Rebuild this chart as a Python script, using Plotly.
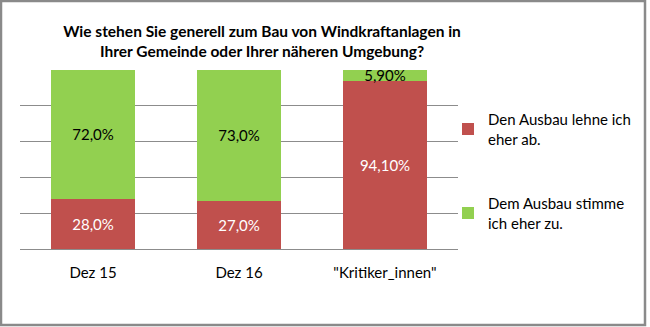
import plotly.graph_objects as go

# Survey data: attitude towards wind turbines nearby
categories = ["Dez 15", "Dez 16", "\"Kritiker_innen\""]
series_names = ["Den Ausbau lehne ich<br>eher ab.", "Dem Ausbau stimme<br>ich eher zu."]
reject_values = [28.0, 27.0, 94.1]
approve_values = [72.0, 73.0, 5.9]
label_decimals = [1, 1, 2]

RED = "#C0504D"
GREEN = "#92D050"
FONT = "Lato"


def pct_labels(values):
    return [f"{v:.{d}f}".replace(".", ",") + "%" for v, d in zip(values, label_decimals)]


fig = go.Figure()
fig.add_trace(go.Bar(
    x=categories, y=reject_values, name=series_names[0],
    marker=dict(color=RED, line=dict(width=0)),
    text=pct_labels(reject_values), textposition="inside",
    insidetextanchor="middle", textangle=0,
    textfont=dict(color="white", size=15, family=FONT),
    legendgroup="a",
))
fig.add_trace(go.Bar(
    x=categories, y=approve_values, name=series_names[1],
    marker=dict(color=GREEN, line=dict(width=0)),
    text=pct_labels(approve_values), textposition="inside",
    insidetextanchor="middle", textangle=0,
    textfont=dict(color="black", size=15, family=FONT),
    legendgroup="b",
))

# Outer frame of the chart
W, H = 650, 327
ml, mr, mt, mb = 20, 192, 70, 78
pw, ph = W - ml - mr, H - mt - mb
fx = lambda px: (px - ml) / pw
fy = lambda py: (H - mb - py) / ph

fig.update_layout(
    width=W, height=H,
    margin=dict(l=ml, r=mr, t=mt, b=mb),
    paper_bgcolor="white", plot_bgcolor="white",
    barmode="stack", bargap=0.43,
    font=dict(family=FONT, size=15, color="black"),
    title=dict(
        text="<b>Wie stehen Sie generell zum Bau von Windkraftanlagen in<br>Ihrer Gemeinde oder Ihrer näheren Umgebung?</b>",
        x=262 / W, xanchor="center", y=1 - 37 / H, yanchor="middle",
        font=dict(family=FONT, size=15.5, color="black"),
    ),
    uniformtext=dict(minsize=15, mode="show"),
    showlegend=True,
    legend=dict(
        x=fx(448), xanchor="left", y=fy(103), yanchor="top",
        traceorder="grouped", tracegroupgap=42,
        font=dict(family=FONT, size=15, color="black"),
        bgcolor="rgba(0,0,0,0)",
    ),
    xaxis=dict(
        showgrid=False, showline=True, linecolor="#8C8C8C", linewidth=1,
        ticks="", tickfont=dict(family=FONT, size=15, color="black"),
        ticklabelstandoff=10,
    ),
    yaxis=dict(
        range=[0, 100], dtick=20, showgrid=True, gridcolor="#8C8C8C", gridwidth=1,
        showticklabels=False, zeroline=False, ticks="",
    ),
    shapes=[dict(
        type="rect", xref="paper", yref="paper",
        x0=fx(1), x1=fx(645), y0=fy(1), y1=fy(325),
        line=dict(color="#8A8A8A", width=2.5), fillcolor="rgba(0,0,0,0)",
        layer="above",
    )],
)

fig.write_html("out.html")
